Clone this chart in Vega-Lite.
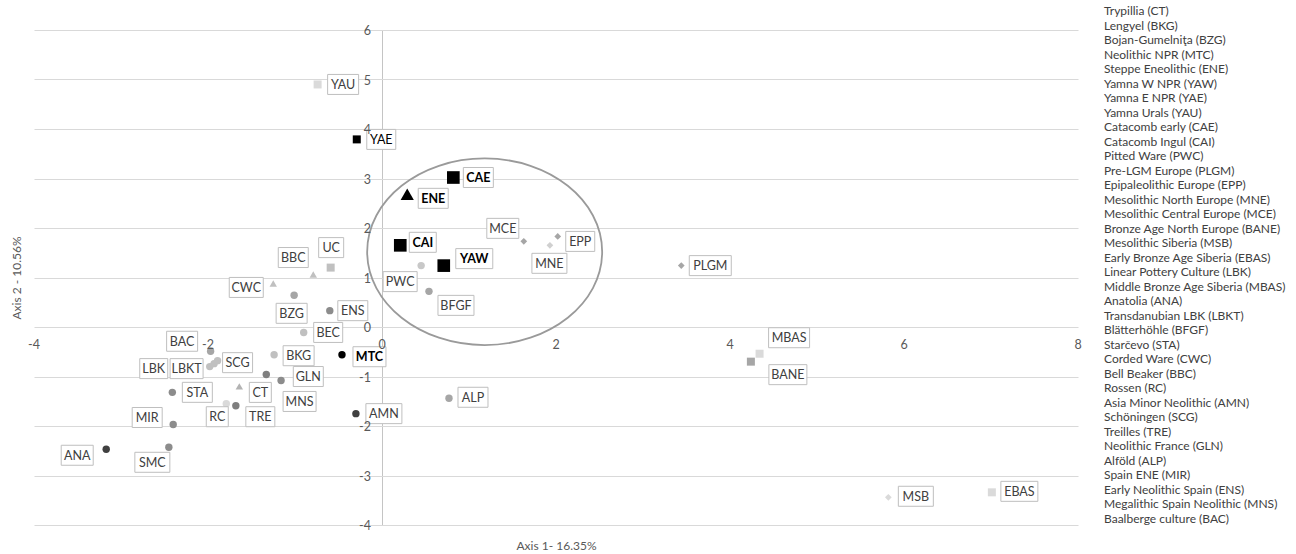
{
  "$schema": "https://vega.github.io/schema/vega-lite/v6.json",
  "width": 1044,
  "height": 495,
  "autosize": {"type": "none"},
  "padding": {"left": 34, "top": 30, "right": 218, "bottom": 29},
  "background": "white",
  "config": {"font": "Lato", "view": {"stroke": null}},
  "params": [
    {"name": "B", "value": {
      "YAU": [10, -10, 31], "YAE": [10, -10, 29], "CAE": [10, -10, 30], "ENE": [11, -6, 30],
      "CAI": [9, -13, 27], "YAW": [12, -17, 37], "PWC": [-38, 6, 34], "BFGF": [9, 4, 36],
      "MCE": [-37, -23, 32], "MNE": [-18, 8, 35], "EPP": [8, -5, 29], "PLGM": [8, -10, 42],
      "MBAS": [9, -26, 41], "BANE": [18, 3, 38], "MSB": [10, -11, 35], "EBAS": [9, -11, 37],
      "ALP": [9, -11, 30], "AMN": [10, -10, 36], "UC": [-12, -30, 25], "BBC": [-35, -27, 30],
      "CWC": [-44, -6, 34], "BZG": [-18, 8, 31], "ENS": [8, -10, 30], "BEC": [10, -10, 29],
      "MTC": [11, -8, 33], "BKG": [9, -9, 31], "GLN": [27, -8, 30], "MNS": [2, 11, 33],
      "CT": [10, -4, 22], "TRE": [10, 1, 29], "RC": [-20, 3, 22], "BAC": [-44, -20, 31],
      "LBK": [-70, -8, 28], "LBKT": [-44, -5, 33], "SCG": [5, -8, 30], "STA": [10, -10, 30],
      "MIR": [-41, -17, 30], "ANA": [-45, -4, 32], "SMC": [-34, 5, 35]
    }}
  ],
  "data": {"values": [
    {"code": "CT", "name": "Trypillia (CT)", "x": -1.64, "y": -1.20},
    {"code": "BKG", "name": "Lengyel (BKG)", "x": -1.24, "y": -0.56},
    {"code": "BZG", "name": "Bojan-Gumelniţa (BZG)", "x": -1.01, "y": 0.64},
    {"code": "MTC", "name": "Neolithic NPR (MTC)", "x": -0.46, "y": -0.56},
    {"code": "ENE", "name": "Steppe Eneolithic (ENE)", "x": 0.29, "y": 2.68},
    {"code": "YAW", "name": "Yamna W NPR (YAW)", "x": 0.71, "y": 1.24},
    {"code": "YAE", "name": "Yamna E NPR (YAE)", "x": -0.29, "y": 3.79},
    {"code": "YAU", "name": "Yamna Urals (YAU)", "x": -0.74, "y": 4.90},
    {"code": "CAE", "name": "Catacomb early (CAE)", "x": 0.82, "y": 3.02},
    {"code": "CAI", "name": "Catacomb Ingul (CAI)", "x": 0.21, "y": 1.65},
    {"code": "PWC", "name": "Pitted Ware (PWC)", "x": 0.45, "y": 1.24},
    {"code": "PLGM", "name": "Pre-LGM Europe (PLGM)", "x": 3.44, "y": 1.24},
    {"code": "EPP", "name": "Epipaleolithic Europe (EPP)", "x": 2.02, "y": 1.83},
    {"code": "MNE", "name": "Mesolithic North Europe (MNE)", "x": 1.93, "y": 1.65},
    {"code": "MCE", "name": "Mesolithic Central Europe (MCE)", "x": 1.63, "y": 1.73},
    {"code": "BANE", "name": "Bronze Age North Europe (BANE)", "x": 4.24, "y": -0.70},
    {"code": "MSB", "name": "Mesolithic Siberia (MSB)", "x": 5.82, "y": -3.44},
    {"code": "EBAS", "name": "Early Bronze Age Siberia (EBAS)", "x": 7.01, "y": -3.34},
    {"code": "LBK", "name": "Linear Pottery Culture (LBK)", "x": -1.98, "y": -0.80},
    {"code": "MBAS", "name": "Middle Bronze Age Siberia (MBAS)", "x": 4.34, "y": -0.54},
    {"code": "ANA", "name": "Anatolia (ANA)", "x": -3.17, "y": -2.47},
    {"code": "LBKT", "name": "Transdanubian LBK (LBKT)", "x": -1.93, "y": -0.74},
    {"code": "BFGF", "name": "Blätterhöhle (BFGF)", "x": 0.54, "y": 0.72},
    {"code": "STA", "name": "Starčevo (STA)", "x": -2.41, "y": -1.32},
    {"code": "CWC", "name": "Corded Ware (CWC)", "x": -1.25, "y": 0.88},
    {"code": "BBC", "name": "Bell Beaker (BBC)", "x": -0.79, "y": 1.06},
    {"code": "RC", "name": "Rossen (RC)", "x": -1.79, "y": -1.55},
    {"code": "AMN", "name": "Asia Minor Neolithic (AMN)", "x": -0.30, "y": -1.75},
    {"code": "SCG", "name": "Schöningen (SCG)", "x": -1.89, "y": -0.68},
    {"code": "TRE", "name": "Treilles (TRE)", "x": -1.68, "y": -1.59},
    {"code": "GLN", "name": "Neolithic France (GLN)", "x": -1.33, "y": -0.96},
    {"code": "ALP", "name": "Alföld (ALP)", "x": 0.77, "y": -1.44},
    {"code": "MIR", "name": "Spain ENE (MIR)", "x": -2.40, "y": -1.97},
    {"code": "ENS", "name": "Early Neolithic Spain (ENS)", "x": -0.60, "y": 0.33},
    {"code": "MNS", "name": "Megalithic Spain Neolithic (MNS)", "x": -1.16, "y": -1.08},
    {"code": "BAC", "name": "Baalberge culture (BAC)", "x": -1.97, "y": -0.49},
    {"code": "UC", "name": "UC", "x": -0.59, "y": 1.20},
    {"code": "BEC", "name": "BEC", "x": -0.90, "y": -0.11},
    {"code": "SMC", "name": "SMC", "x": -2.45, "y": -2.43}
  ]},
  "encoding": {
    "x": {"field": "x", "type": "quantitative",
      "scale": {"domain": [-4, 8], "nice": false, "zero": false},
      "axis": {"title": "Axis 1- 16.35%", "values": [0], "labels": false, "ticks": false, "domain": false,
        "grid": true, "gridColor": "#c4c4c4", "gridWidth": 1,
        "titleFont": "Lato", "titleFontSize": 12, "titleFontWeight": "normal", "titleColor": "#595959", "titlePadding": 15}},
    "y": {"field": "y", "type": "quantitative",
      "scale": {"domain": [-4, 6], "nice": false, "zero": false},
      "axis": {"title": "Axis 2 - 10.56%", "values": [-4, -3, -2, -1, 0, 1, 2, 3, 4, 5, 6], "labels": false, "ticks": false, "domain": false,
        "grid": true, "gridColor": "#d9d9d9", "gridWidth": 1,
        "titleFont": "Lato", "titleFontSize": 12, "titleFontWeight": "normal", "titleColor": "#595959", "titlePadding": 11}}
  },
  "layer": [
    {
      "data": {"values": [{"x": 1.18, "y": 1.52}]},
      "mark": {"type": "point", "filled": false, "size": 4, "opacity": 1,
        "stroke": "#9a9a9a", "strokeWidth": 1.8,
        "shape": "M-117.5,0C-117.5,-51.5,-64.9,-93.3,0,-93.3C64.9,-93.3,117.5,-51.5,117.5,0C117.5,51.5,64.9,93.3,0,93.3C-64.9,93.3,-117.5,51.5,-117.5,0Z"}
    },
    {
      "mark": {"type": "point", "filled": true, "opacity": 1,
        "size": {"expr": "indexof(['CAE','CAI','YAW'], datum.code) >= 0 ? 160 : datum.code == 'ENE' ? 175 : indexof(['MCE','MNE','EPP','PLGM','MSB'], datum.code) >= 0 ? 45 : indexof(['YAE','YAU','UC','MBAS','BANE','EBAS'], datum.code) >= 0 ? 64 : 55"}},
      "encoding": {
        "color": {"field": "name", "type": "nominal",
          "scale": {
            "domain": ["Trypillia (CT)", "Lengyel (BKG)", "Bojan-Gumelniţa (BZG)", "Neolithic NPR (MTC)", "Steppe Eneolithic (ENE)", "Yamna W NPR (YAW)", "Yamna E NPR (YAE)", "Yamna Urals (YAU)", "Catacomb early (CAE)", "Catacomb Ingul (CAI)", "Pitted Ware (PWC)", "Pre-LGM Europe (PLGM)", "Epipaleolithic Europe (EPP)", "Mesolithic North Europe (MNE)", "Mesolithic Central Europe (MCE)", "Bronze Age North Europe (BANE)", "Mesolithic Siberia (MSB)", "Early Bronze Age Siberia (EBAS)", "Linear Pottery Culture (LBK)", "Middle Bronze Age Siberia (MBAS)", "Anatolia (ANA)", "Transdanubian LBK (LBKT)", "Blätterhöhle (BFGF)", "Starčevo (STA)", "Corded Ware (CWC)", "Bell Beaker (BBC)", "Rossen (RC)", "Asia Minor Neolithic (AMN)", "Schöningen (SCG)", "Treilles (TRE)", "Neolithic France (GLN)", "Alföld (ALP)", "Spain ENE (MIR)", "Early Neolithic Spain (ENS)", "Megalithic Spain Neolithic (MNS)", "Baalberge culture (BAC)", "UC", "BEC", "SMC"],
            "range": ["#b3b3b3", "#c0c0c0", "#a6a6a6", "#000000", "#000000", "#000000", "#000000", "#dadada", "#000000", "#000000", "#c8c8c8", "#a6a6a6", "#a6a6a6", "#d0d0d0", "#a6a6a6", "#a6a6a6", "#dadada", "#dadada", "#c0c0c0", "#dadada", "#404040", "#c0c0c0", "#a6a6a6", "#8c8c8c", "#c0c0c0", "#c0c0c0", "#dadada", "#404040", "#c0c0c0", "#7f7f7f", "#7f7f7f", "#a6a6a6", "#8c8c8c", "#8c8c8c", "#8c8c8c", "#a6a6a6", "#c0c0c0", "#c0c0c0", "#8c8c8c"]
          },
          "legend": {
            "values": ["Trypillia (CT)", "Lengyel (BKG)", "Bojan-Gumelniţa (BZG)", "Neolithic NPR (MTC)", "Steppe Eneolithic (ENE)", "Yamna W NPR (YAW)", "Yamna E NPR (YAE)", "Yamna Urals (YAU)", "Catacomb early (CAE)", "Catacomb Ingul (CAI)", "Pitted Ware (PWC)", "Pre-LGM Europe (PLGM)", "Epipaleolithic Europe (EPP)", "Mesolithic North Europe (MNE)", "Mesolithic Central Europe (MCE)", "Bronze Age North Europe (BANE)", "Mesolithic Siberia (MSB)", "Early Bronze Age Siberia (EBAS)", "Linear Pottery Culture (LBK)", "Middle Bronze Age Siberia (MBAS)", "Anatolia (ANA)", "Transdanubian LBK (LBKT)", "Blätterhöhle (BFGF)", "Starčevo (STA)", "Corded Ware (CWC)", "Bell Beaker (BBC)", "Rossen (RC)", "Asia Minor Neolithic (AMN)", "Schöningen (SCG)", "Treilles (TRE)", "Neolithic France (GLN)", "Alföld (ALP)", "Spain ENE (MIR)", "Early Neolithic Spain (ENS)", "Megalithic Spain Neolithic (MNS)", "Baalberge culture (BAC)"],
            "orient": "none", "direction": "vertical", "legendX": 1058, "legendY": -25,
            "title": null, "symbolSize": 0, "symbolOpacity": 0, "symbolStrokeWidth": 0,
            "labelFont": "Lato", "labelFontSize": 12, "labelColor": "#404040", "labelOffset": 0,
            "rowPadding": 2.5, "padding": 0, "symbolLimit": 60, "labelLimit": 400
          }
        },
        "shape": {"field": "name", "type": "nominal",
          "scale": {
            "domain": ["Trypillia (CT)", "Lengyel (BKG)", "Bojan-Gumelniţa (BZG)", "Neolithic NPR (MTC)", "Steppe Eneolithic (ENE)", "Yamna W NPR (YAW)", "Yamna E NPR (YAE)", "Yamna Urals (YAU)", "Catacomb early (CAE)", "Catacomb Ingul (CAI)", "Pitted Ware (PWC)", "Pre-LGM Europe (PLGM)", "Epipaleolithic Europe (EPP)", "Mesolithic North Europe (MNE)", "Mesolithic Central Europe (MCE)", "Bronze Age North Europe (BANE)", "Mesolithic Siberia (MSB)", "Early Bronze Age Siberia (EBAS)", "Linear Pottery Culture (LBK)", "Middle Bronze Age Siberia (MBAS)", "Anatolia (ANA)", "Transdanubian LBK (LBKT)", "Blätterhöhle (BFGF)", "Starčevo (STA)", "Corded Ware (CWC)", "Bell Beaker (BBC)", "Rossen (RC)", "Asia Minor Neolithic (AMN)", "Schöningen (SCG)", "Treilles (TRE)", "Neolithic France (GLN)", "Alföld (ALP)", "Spain ENE (MIR)", "Early Neolithic Spain (ENS)", "Megalithic Spain Neolithic (MNS)", "Baalberge culture (BAC)", "UC", "BEC", "SMC"],
            "range": ["triangle-up", "circle", "circle", "circle", "triangle-up", "square", "square", "square", "square", "square", "circle", "diamond", "diamond", "diamond", "diamond", "square", "diamond", "square", "circle", "square", "circle", "circle", "circle", "circle", "triangle-up", "triangle-up", "circle", "circle", "circle", "circle", "circle", "circle", "circle", "circle", "circle", "circle", "square", "circle", "circle"]
          },
          "legend": null
        }
      }
    },
    {
      "mark": {"type": "rect", "fill": "white", "stroke": "#bfbfbf", "strokeWidth": 1,
        "xOffset": {"expr": "B[datum.code][0]"},
        "x2Offset": {"expr": "B[datum.code][0] + B[datum.code][2]"},
        "yOffset": {"expr": "B[datum.code][1]"},
        "y2Offset": {"expr": "B[datum.code][1] + 20"}},
      "encoding": {
        "x2": {"field": "x"},
        "y2": {"field": "y"}
      }
    },
    {
      "mark": {"type": "text", "align": "center", "baseline": "middle", "font": "Lato", "fontSize": 12.5,
        "dx": {"expr": "B[datum.code][0] + B[datum.code][2] / 2"},
        "dy": {"expr": "B[datum.code][1] + 10.5"},
        "fontWeight": {"expr": "indexof(['CAE','CAI','YAW','ENE','MTC'], datum.code) >= 0 ? 'bold' : 'normal'"},
        "fill": {"expr": "indexof(['CAE','CAI','YAW','ENE','MTC','YAE'], datum.code) >= 0 ? '#000000' : '#404040'"}},
      "encoding": {"text": {"field": "code", "type": "nominal"}}
    },
    {
      "data": {"values": [
        {"x": -4, "y": 0, "t": "-4"}, {"x": -2, "y": 0, "t": "-2"}, {"x": 0, "y": 0, "t": "0"},
        {"x": 2, "y": 0, "t": "2"}, {"x": 4, "y": 0, "t": "4"}, {"x": 6, "y": 0, "t": "6"}, {"x": 8, "y": 0, "t": "8"}
      ]},
      "mark": {"type": "text", "align": "center", "baseline": "middle", "dy": 18, "font": "Lato", "fontSize": 12.5, "fill": "#595959"},
      "encoding": {"text": {"field": "t", "type": "nominal"}}
    },
    {
      "data": {"values": [
        {"x": 0, "y": -4, "t": "-4"}, {"x": 0, "y": -3, "t": "-3"}, {"x": 0, "y": -2, "t": "-2"}, {"x": 0, "y": -1, "t": "-1"},
        {"x": 0, "y": 0, "t": "0"}, {"x": 0, "y": 1, "t": "1"}, {"x": 0, "y": 2, "t": "2"}, {"x": 0, "y": 3, "t": "3"},
        {"x": 0, "y": 4, "t": "4"}, {"x": 0, "y": 5, "t": "5"}, {"x": 0, "y": 6, "t": "6"}
      ]},
      "mark": {"type": "text", "align": "right", "baseline": "middle", "dx": -11, "dy": 1, "font": "Lato", "fontSize": 12.5, "fill": "#595959"},
      "encoding": {"text": {"field": "t", "type": "nominal"}}
    }
  ],
  "resolve": {"scale": {"color": "independent", "shape": "independent"}}
}
